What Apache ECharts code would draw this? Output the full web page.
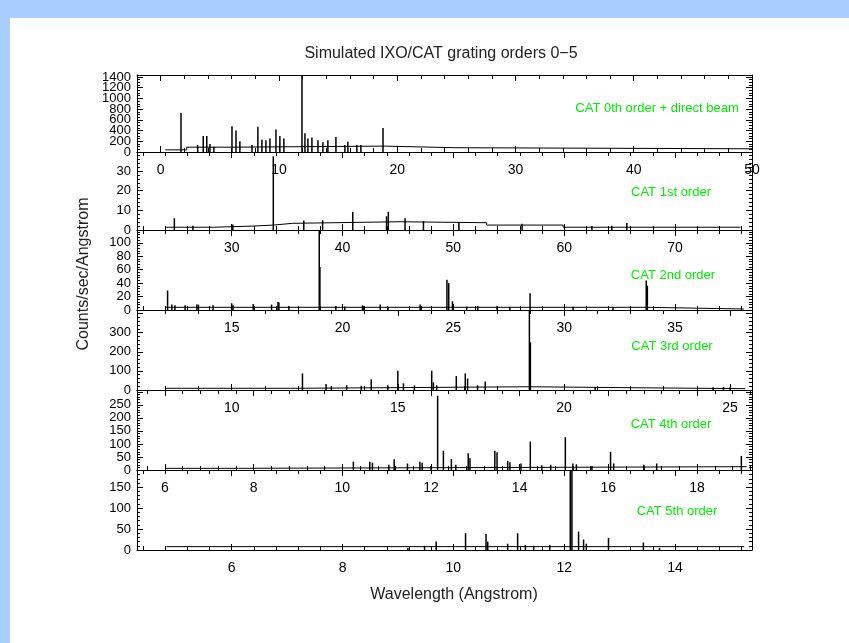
<!DOCTYPE html>
<html><head><meta charset="utf-8">
<script src="https://cdn.jsdelivr.net/npm/echarts@6/dist/echarts.min.js"></script>
<style>html,body{margin:0;padding:0;background:#fff}#c{width:849px;height:643px}</style>
</head><body><div id="c"></div>
<script>
// ---- data ----
const panelNames = ['CAT 0th order + direct beam','CAT 1st order','CAT 2nd order','CAT 3rd order','CAT 4th order','CAT 5th order'];
const xRanges = [[-2,50],[21.45,76.95],[10.73,38.47],[7.15,25.66],[5.37,19.24],[4.29,15.39]];
const xMajor = [10,10,5,5,2,2];
const yMax = [1437,39.7,119,419,307,191];
const yLabelMax = [1400,30,100,300,250,150];

// continuum levels (step starts) [x, counts]
const cont0 = [[0.4,40],[2.2,90],[6.0,110],[18.9,80],[24.9,60],[50,60]];
const cont1 = [[23.98,1.4],[28.34,2.0],[31.92,2.5],[33.75,3.4],[35.5,4.2],[45.2,3.7],[53.0,2.5],[59.9,1.4],[75.9,1.4]];
const cont2 = [[11.99,4],[33.7,1.5],[38.1,1.5]];
const cont3 = [[7.99,9],[12.0,17],[18.97,12],[22,7],[25.46,7]];
const cont4 = [[6.0,6.4],[7.66,12.7],[19.12,12.7]];
const cont5 = [[4.82,8],[15.25,8]];

// emission lines [x, counts]
const lines0 = [[1.72,730],[3.13,130],[3.6,300],[3.9,300],[4.17,150],[4.5,100],[6.03,480],[6.37,400],[6.7,200],[7.72,130],[8.22,470],[8.56,230],[8.9,220],[9.24,250],[9.75,420],[10.08,300],[10.42,250],[11.95,1420],[12.2,350],[12.45,250],[12.79,270],[13.3,220],[13.72,180],[14.14,220],[14.82,280],[15.58,130],[15.83,190],[16.59,130],[16.93,130],[18.8,450]];
const lines1 = [[24.82,6],[26.5,2.2],[30.1,2.8],[33.75,37.5],[36.5,4.8],[38.2,5],[40.92,9.3],[43.97,7],[44.13,9.3],[45.64,6],[47.3,4.5],[50.5,4],[56.2,3.2],[62.5,2],[64.3,2.2],[65.65,3.5]];
const lines2 = [[12.11,29],[12.3,8],[12.44,7],[12.9,7],[13.43,8],[13.5,8],[14.16,7],[15.0,10],[15.06,7],[15.97,9],[16.8,8],[17.09,12],[17.13,11],[17.58,6],[18.95,180],[18.98,64],[19.7,6],[20.1,5],[20.9,7],[20.94,6],[21.7,8],[22.05,5],[23.5,8],[23.55,6],[24.71,45],[24.79,40],[24.96,13],[25.6,5],[26.1,6],[26.97,6],[27.55,5],[28.46,25],[30.4,5],[32.2,4],[33.7,44],[33.75,36]];
const lines3 = [[12.13,87],[12.84,31],[13.0,20],[13.46,25],[13.9,22],[14.2,56],[14.7,25],[15.0,101],[15.17,35],[15.5,24],[16.02,101],[16.07,40],[16.17,25],[16.76,73],[17.03,87],[17.1,60],[17.4,25],[17.63,44],[18.96,600],[18.99,250],[20.94,15],[24.49,15],[24.8,16],[25.0,14]];
const lines4 = [[10.25,32],[10.62,32],[10.68,28],[11.05,20],[11.17,41],[11.47,25],[11.75,32],[11.8,28],[12.0,15],[12.15,285],[12.28,74],[12.46,42],[12.56,20],[12.84,64],[12.88,45],[13.44,74],[13.49,68],[13.73,35],[13.78,30],[14.03,25],[14.24,109],[14.5,18],[14.7,20],[15.03,126],[15.2,25],[15.28,22],[15.63,15],[16.05,70],[16.12,25],[16.8,20],[17.09,25],[19.0,54]];
const lines5 = [[9.18,5],[9.48,10],[9.69,20],[10.22,40],[10.59,38],[10.62,20],[10.98,15],[11.16,40],[11.3,12],[11.45,10],[11.74,12],[12.11,250],[12.14,250],[12.26,44],[12.35,25],[12.4,15],[12.8,29],[13.43,18],[13.72,5]];

const conts = [cont0,cont1,cont2,cont3,cont4,cont5];
const lineSets = [lines0,lines1,lines2,lines3,lines4,lines5];

// ---- layout ----
const tops = [75,152,230,310,390,470];
const heights = [77,78,80,80,80,80];
const xSplit = [5,5,5,4,7,5];
const xMinor = [5,5,5,5,5,5];
const ySplit = [7,4,6,4,6,4];
const yMinor = [4,5,5,5,5,5];
const FONT = 'Liberation Sans, Arial, Helvetica, sans-serif';

const grids=[], xAxes=[], yAxes=[], series=[], graphics=[];
const isMult = (v,s) => Math.abs(v/s - Math.round(v/s)) < 1e-6;
for (let i=0;i<6;i++){
  grids.push({left:137, width:615, top:tops[i], height:heights[i], show:false});
  const xc = {type:'value', gridIndex:i, min:xRanges[i][0], max:xRanges[i][1], splitNumber:xSplit[i],
    splitLine:{show:false}, axisLine:{onZero:false, lineStyle:{color:'#000',width:1}},
    axisTick:{inside:true,length:6,lineStyle:{color:'#000'}},
    minorTick:{show:true,splitNumber:xMinor[i],length:4,lineStyle:{color:'#000'}}};
  xAxes.push(Object.assign({}, xc, {position:'bottom',
    axisLabel:{margin:11, fontSize:14, color:'#000', fontFamily:FONT, showMinLabel:true, showMaxLabel:true,
      formatter:(v)=> isMult(v,xMajor[i]) ? String(Math.round(v)) : ''}}));
  xAxes.push(Object.assign({}, xc, {position:'top', axisLabel:{show:false}}));
  const yc = {type:'value', gridIndex:i, min:0, max:yMax[i], splitNumber:ySplit[i],
    splitLine:{show:false}, axisLine:{show:true,onZero:false,lineStyle:{color:'#000',width:1}},
    axisTick:{inside:true,length:6,lineStyle:{color:'#000'}},
    minorTick:{show:true,splitNumber:yMinor[i],length:3,lineStyle:{color:'#000'}}};
  // main left axis: labels above zero
  yAxes.push(Object.assign({}, yc, {position:'left',
    axisLabel:{margin:6, fontSize:13, color:'#000', fontFamily:FONT, showMinLabel:false, showMaxLabel:true,
      formatter:(v)=> (v > 0 && v <= yLabelMax[i] + 1e-9) ? String(v) : ''}}));
  // right frame axis
  yAxes.push(Object.assign({}, yc, {position:'right', axisLabel:{show:false}}));
  // zero label axis
  yAxes.push(Object.assign({}, yc, {position:'left', axisLine:{show:false}, axisTick:{show:false}, minorTick:{show:false},
    axisLabel:{margin:6, fontSize:13, color:'#000', fontFamily:FONT, showMinLabel:true, showMaxLabel:false,
      formatter:(v)=> v === 0 ? '0' : ''}}));
  series.push({type:'bar', xAxisIndex:2*i, yAxisIndex:3*i, data:lineSets[i], barWidth:1.5,
    itemStyle:{color:'#000'}, silent:true, animation:false, clip:true});
  series.push({type:'line', xAxisIndex:2*i, yAxisIndex:3*i, data:conts[i], step:'end',
    symbol:'none', lineStyle:{color:'#000',width:1}, silent:true, animation:false, clip:true});
}
const labelPos = [[657,108],[671,192],[673,275],[672,346],[671,424],[677,511]];
panelNames.forEach((t,i)=>{
  graphics.push({type:'text', x:labelPos[i][0], y:labelPos[i][1], z:50,
    style:{text:t, fill:'#00ee00', font:'13px '+FONT, textAlign:'center', textVerticalAlign:'middle'}});
});
graphics.push({type:'rect', shape:{x:0,y:0,width:849,height:18}, style:{fill:'#a9cdff'}, z:-10});
graphics.push({type:'rect', shape:{x:0,y:0,width:10,height:643}, style:{fill:'#a9cdff'}, z:-10});
graphics.push({type:'text', x:441, y:54, style:{text:'Simulated IXO/CAT grating orders 0\u22125', fill:'#222', font:'16px '+FONT, textAlign:'center', textVerticalAlign:'middle'}});
graphics.push({type:'text', x:454, y:595, style:{text:'Wavelength (Angstrom)', fill:'#222', font:'16px '+FONT, textAlign:'center', textVerticalAlign:'middle'}});
graphics.push({type:'text', x:84, y:274, rotation:Math.PI/2, style:{text:'Counts/sec/Angstrom', fill:'#222', font:'16px '+FONT, textAlign:'center', textVerticalAlign:'middle'}});

const chart = echarts.init(document.getElementById('c'), null, {renderer:'canvas'});
chart.setOption({animation:false, backgroundColor:'#fff', grid:grids, xAxis:xAxes, yAxis:yAxes, series:series, graphic:graphics});
</script></body></html>
